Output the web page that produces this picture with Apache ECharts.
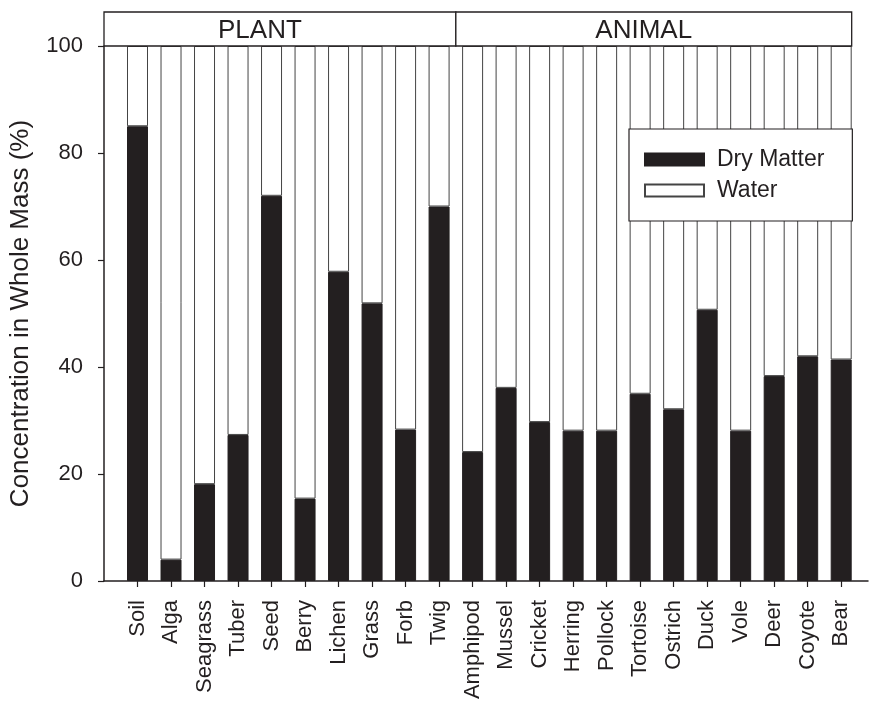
<!DOCTYPE html>
<html>
<head>
<meta charset="utf-8">
<script src="https://cdn.jsdelivr.net/npm/echarts@6/dist/echarts.min.js"></script>
<style>
html,body{margin:0;padding:0;background:#fff;}
#chart{width:869px;height:712px;}
</style>
</head>
<body>
<div id="chart"></div>
<script>
var plantCategories = ['Soil','Alga','Seagrass','Tuber','Seed','Berry','Lichen','Grass','Forb','Twig'];
var animalCategories = ['Amphipod','Mussel','Cricket','Herring','Pollock','Tortoise','Ostrich','Duck','Vole','Deer','Coyote','Bear'];
var categories = plantCategories.concat(animalCategories);
var dryMatter = [85.0, 4.0, 18.1, 27.3, 72.0, 15.4, 57.8, 51.9, 28.3, 70.0,
                 24.1, 36.1, 29.7, 28.1, 28.1, 35.0, 32.1, 50.7, 28.1, 38.3, 42.0, 41.4];
var water = dryMatter.map(function(d){ return +(100 - d).toFixed(1); });
var groupLabels = ['PLANT', 'ANIMAL'];
var yTicks = [0, 20, 40, 60, 80, 100];

var FONT = '"Liberation Sans", Arial, Helvetica, sans-serif';
var INK = '#231f20';
var positions = categories.map(function(c, i){ return i + 1; });

var chart = echarts.init(document.getElementById('chart'), null, {renderer: 'canvas'});
var option = {
  animation: false,
  backgroundColor: '#fff',
  textStyle: {fontFamily: FONT, color: INK},
  grid: {left: 104, right: 1, top: 46, bottom: 131, containLabel: false},
  legend: {
    data: ['Dry Matter', 'Water'],
    orient: 'vertical',
    left: 629, top: 129,
    icon: 'rect',
    itemWidth: 59, itemHeight: 12, itemGap: 8,
    padding: [19, 28, 19, 15],
    backgroundColor: '#fff',
    borderColor: INK, borderWidth: 1.2,
    textStyle: {fontFamily: FONT, fontSize: 23, color: INK, padding: [0, 0, 0, 8]}
  },
  xAxis: {
    type: 'value', min: 0, max: 22.8,
    axisLine: {show: true, lineStyle: {color: INK, width: 1.5}},
    axisTick: {show: true, customValues: positions, length: 6, lineStyle: {color: INK, width: 1.2}},
    axisLabel: {
      customValues: positions, rotate: 90, margin: 19,
      fontFamily: FONT, fontSize: 22, color: INK,
      formatter: function(v){ return categories[Math.round(v) - 1] || ''; }
    },
    splitLine: {show: false}
  },
  yAxis: {
    type: 'value', min: yTicks[0], max: yTicks[yTicks.length - 1], interval: 20,
    name: 'Concentration in Whole Mass (%)',
    nameLocation: 'middle', nameGap: 70,
    nameTextStyle: {fontFamily: FONT, fontSize: 26, color: INK},
    axisLine: {show: true, lineStyle: {color: INK, width: 1.5}},
    axisTick: {show: true, length: 6, lineStyle: {color: INK, width: 1.2}},
    axisLabel: {margin: 21, fontFamily: FONT, fontSize: 22, color: INK},
    splitLine: {show: false}
  },
  series: [
    {
      name: 'Dry Matter', type: 'bar', stack: 'mass', barWidth: 21,
      encode: {x: 1, y: 0},
      itemStyle: {color: INK, borderColor: INK, borderWidth: 1},
      data: dryMatter.map(function(v, i){ return [v, positions[i]]; })
    },
    {
      name: 'Water', type: 'bar', stack: 'mass', barWidth: 21,
      encode: {x: 1, y: 0},
      itemStyle: {color: '#ffffff', borderColor: '#444', borderWidth: 1},
      data: water.map(function(v, i){ return [v, positions[i]]; })
    }
  ]
};
chart.setOption(option);

// Header boxes (PLANT / ANIMAL) placed from the axis scales
var px = function(v){ return chart.convertToPixel({xAxisIndex: 0}, v); };
var py = function(v){ return chart.convertToPixel({yAxisIndex: 0}, v); };
var x0 = px(0);
var xMid = px(plantCategories.length + 0.5);
var xEnd = px(categories.length) + 10.5;
var yBottom = py(yTicks[yTicks.length - 1]);
var h = 34;
var yTop = yBottom - h;
chart.setOption({
  graphic: [
    {type: 'rect', shape: {x: x0, y: yTop, width: xMid - x0, height: h},
     style: {fill: '#fff', stroke: INK, lineWidth: 1.3}, z: 10},
    {type: 'rect', shape: {x: xMid, y: yTop, width: xEnd - xMid, height: h},
     style: {fill: '#fff', stroke: INK, lineWidth: 1.3}, z: 10},
    {type: 'text', x: (x0 + xMid) / 2 - 20, y: yTop + h / 2 + 2, z: 11,
     style: {text: groupLabels[0], font: '26px ' + FONT, fill: INK, align: 'center', verticalAlign: 'middle'}},
    {type: 'text', x: (xMid + xEnd) / 2 - 10, y: yTop + h / 2 + 2, z: 11,
     style: {text: groupLabels[1], font: '26px ' + FONT, fill: INK, align: 'center', verticalAlign: 'middle'}}
  ]
});
</script>
</body>
</html>
